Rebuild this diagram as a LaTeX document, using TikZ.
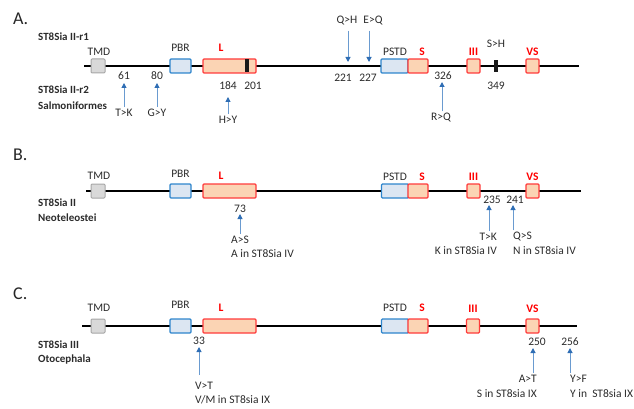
\documentclass[tikz,border=0pt]{standalone}
\usepackage{fontspec}
\setmainfont{Carlito}
\usetikzlibrary{arrows.meta}
\definecolor{tmdfill}{HTML}{D9D9D9}
\definecolor{tmdline}{HTML}{A6A6A6}
\definecolor{bfill}{HTML}{DCE6F2}
\definecolor{bline}{HTML}{2E85CC}
\definecolor{rfill}{HTML}{FBD4B4}
\definecolor{rline}{HTML}{FF3B3B}
\definecolor{arrc}{HTML}{6A9BD0}
\definecolor{arrh}{HTML}{2E6DB4}
\definecolor{txt}{HTML}{2B2B2B}
\begin{document}
\begin{tikzpicture}[x=1pt,y=-1pt,
 lbl/.style={font=\fontsize{11.5}{12}\selectfont, text=txt, inner sep=1pt},
 rlbl/.style={font=\bfseries\fontsize{11.5}{12}\selectfont, text=red, inner sep=1pt},
 sp/.style={font=\bfseries\fontsize{11}{12}\selectfont, text=txt, anchor=west, inner sep=0pt},
 panel/.style={font=\fontsize{18}{20}\selectfont, text=black!85, anchor=west, inner sep=0pt},
 tmd/.style={draw=tmdline, fill=tmdfill, line width=1pt, minimum width=14pt, minimum height=14pt, inner sep=0pt, rounded corners=1pt},
 bbox/.style={draw=bline, fill=bfill, line width=1.2pt, minimum height=14pt, inner sep=0pt, rounded corners=1pt},
 rbox/.style={draw=rline, fill=rfill, line width=1.2pt, minimum height=14pt, inner sep=0pt, rounded corners=1pt},
 bar/.style={fill=black!90, minimum width=4pt, minimum height=13pt, inner sep=0pt},
 backbone/.style={line width=1.8pt, black},
 arr/.style={draw=arrc, line width=1pt, -{Triangle[width=5pt,length=5pt,color=arrh]}},
]
\useasboundingbox (0,0) rectangle (634,409);

% ================= Panel A =================
\node[panel] (pA) at (13,19) {A.};
\node[sp] (a1) at (38,37) {ST8Sia II-r1};
\node[sp] (a2) at (38,90) {ST8Sia II-r2};
\node[sp] (a3) at (38,106) {Salmoniformes};
\coordinate (aS) at (84,66); \coordinate (aE) at (579,66);
\draw[backbone] (aS) -- (aE);
\node[tmd] (aTMD) at (98,66) {};
\node[bbox, minimum width=21pt] (aPBR) at (180.5,66) {};
\node[rbox, minimum width=53pt] (aL) at (229.5,66) {};
\node[bar] (aLbar) at (247,66) {};
\node[bbox, minimum width=27pt] (aPSTD) at (394.5,66) {};
\node[rbox, minimum width=20pt] (aSb) at (418,66) {};
\node[rbox, minimum width=13pt] (aIII) at (473.5,66) {};
\node[bar, minimum height=12pt] (aSHbar) at (496,66) {};
\node[rbox, minimum width=13pt] (aVS) at (532.5,66) {};
\node[lbl] (aTMDl) at (99,52) {TMD};
\node[lbl] (aPBRl) at (180.5,48) {PBR};
\node[rlbl] (aLl) at (221,48) {L};
\node[lbl] (aPSTDl) at (395,52) {PSTD};
\node[rlbl] (aSl) at (422,52) {S};
\node[rlbl] (aIIIl) at (473.5,52) {III};
\node[rlbl] (aVSl) at (532.5,52) {VS};
\node[lbl] (aSH) at (496,44) {S>H};
% numbers
\node[lbl] (a61) at (124,76) {61};
\node[lbl] (a80) at (157,76) {80};
\node[lbl] (a184) at (228,86) {184};
\node[lbl] (a201) at (253,86) {201};
\node[lbl] (a221) at (343,78) {221};
\node[lbl] (a227) at (368,78) {227};
\node[lbl] (a326) at (443,76) {326};
\node[lbl] (a349) at (496,86) {349};
% mutation labels
\node[lbl] (aTK) at (124,113) {T>K};
\node[lbl] (aGY) at (157,113) {G>Y};
\node[lbl] (aHY) at (228,120) {H>Y};
\node[lbl] (aQH) at (347,21) {Q>H};
\node[lbl] (aEQ) at (373,21) {E>Q};
\node[lbl] (aRQ) at (441,118) {R>Q};
% arrows
\coordinate (a61t) at (124,83);
\coordinate (a80t) at (157,83);
\coordinate (a184t) at (228,97);
\coordinate (a221t) at (348,62);
\coordinate (a227t) at (369,62);
\coordinate (a326t) at (442,82);
\draw[arr, shorten <=1pt] (aTK.north -| a61t) -- (a61t);
\draw[arr, shorten <=1pt] (aGY.north -| a80t) -- (a80t);
\draw[arr, shorten <=1pt] (aHY.north -| a184t) -- (a184t);
\draw[arr, shorten <=4pt] (aQH.south -| a221t) -- (a221t);
\draw[arr, shorten <=4pt] (aEQ.south -| a227t) -- (a227t);
\draw[arr, shorten <=1pt] (aRQ.north -| a326t) -- (a326t);

% ================= Panel B =================
\node[panel] (pB) at (13,155) {B.};
\node[sp] (b1) at (38,203) {ST8Sia II};
\node[sp] (b2) at (38,218) {Neoteleostei};
\coordinate (bS) at (86,191); \coordinate (bE) at (581,191);
\draw[backbone] (bS) -- (bE);
\node[tmd] (bTMD) at (98,191) {};
\node[bbox, minimum width=21pt] (bPBR) at (180.5,191) {};
\node[rbox, minimum width=53pt] (bL) at (229.5,191) {};
\node[bbox, minimum width=27pt] (bPSTD) at (395,191) {};
\node[rbox, minimum width=20pt] (bSb) at (418,191) {};
\node[rbox, minimum width=13pt] (bIII) at (473.5,191) {};
\node[rbox, minimum width=13pt] (bVS) at (532.5,191) {};
\node[lbl] (bTMDl) at (99,176) {TMD};
\node[lbl] (bPBRl) at (180.5,174) {PBR};
\node[rlbl] (bLl) at (221,176) {L};
\node[lbl] (bPSTDl) at (395,177) {PSTD};
\node[rlbl] (bSl) at (422,177) {S};
\node[rlbl] (bIIIl) at (473.5,177) {III};
\node[rlbl] (bVSl) at (532.5,177) {VS};
\node[lbl] (b73) at (240,209) {73};
\node[lbl] (b235) at (492,200) {235};
\node[lbl] (b241) at (515,200) {241};
\node[lbl, anchor=west] (bAS) at (230,240) {A>S};
\node[lbl, anchor=west] (bAS2) at (230,254) {A in ST8Sia IV};
\node[lbl, anchor=east] (bTK) at (498,237) {T>K};
\node[lbl, anchor=east] (bTK2) at (498,251) {K in ST8Sia IV};
\node[lbl, anchor=west] (bQS) at (512,237) {Q>S};
\node[lbl, anchor=west] (bQS2) at (512,251) {N in ST8sia IV};
\coordinate (b73t) at (240,214);
\coordinate (b235t) at (489,205);
\coordinate (b241t) at (513,205);
\draw[arr, shorten <=1pt] (bAS.north -| b73t) -- (b73t);
\draw[arr, shorten <=1pt] (bTK.north -| b235t) -- (b235t);
\draw[arr, shorten <=1pt] (bQS.north -| b241t) -- (b241t);

% ================= Panel C =================
\node[panel] (pC) at (13,294) {C.};
\node[sp] (c1) at (38,345) {ST8Sia III};
\node[sp] (c2) at (38,360) {Otocephala};
\coordinate (cS) at (82,326); \coordinate (cE) at (577,326);
\draw[backbone] (cS) -- (cE);
\node[tmd] (cTMD) at (98,326) {};
\node[bbox, minimum width=21pt] (cPBR) at (180.5,326) {};
\node[rbox, minimum width=53pt] (cL) at (229.5,326) {};
\node[bbox, minimum width=27pt] (cPSTD) at (395,326) {};
\node[rbox, minimum width=20pt] (cSb) at (418,326) {};
\node[rbox, minimum width=13pt] (cIII) at (473,326) {};
\node[rbox, minimum width=13pt] (cVS) at (532.5,326) {};
\node[lbl] (cTMDl) at (99,308) {TMD};
\node[lbl] (cPBRl) at (180.5,305) {PBR};
\node[rlbl] (cLl) at (221,308) {L};
\node[lbl] (cPSTDl) at (395,308) {PSTD};
\node[rlbl] (cSl) at (422,308) {S};
\node[rlbl] (cIIIl) at (473,309) {III};
\node[rlbl] (cVSl) at (532.5,309) {VS};
\node[lbl] (c33) at (199,341) {33};
\node[lbl] (c250) at (537,342) {250};
\node[lbl] (c256) at (570,342) {256};
\node[lbl, anchor=west] (cVT) at (194,386) {V>T};
\node[lbl, anchor=west] (cVT2) at (194,400) {V/M in ST8sia IX};
\node[lbl, anchor=east] (cAT) at (538,379) {A>T};
\node[lbl, anchor=east] (cAT2) at (538,394) {S in ST8sia IX};
\node[lbl, anchor=west] (cYF) at (569,379) {Y>F};
\node[lbl, anchor=west] (cYF2) at (569,394) {Y in~ ST8sia IX};
\coordinate (c33t) at (199,347);
\coordinate (c250t) at (533,348);
\coordinate (c256t) at (570,348);
\draw[arr, shorten <=6pt] (cVT.north -| c33t) -- (c33t);
\draw[arr, shorten <=1pt] (cAT.north -| c250t) -- (c250t);
\draw[arr, shorten <=1pt] (cYF.north -| c256t) -- (c256t);
\end{tikzpicture}
\end{document}
